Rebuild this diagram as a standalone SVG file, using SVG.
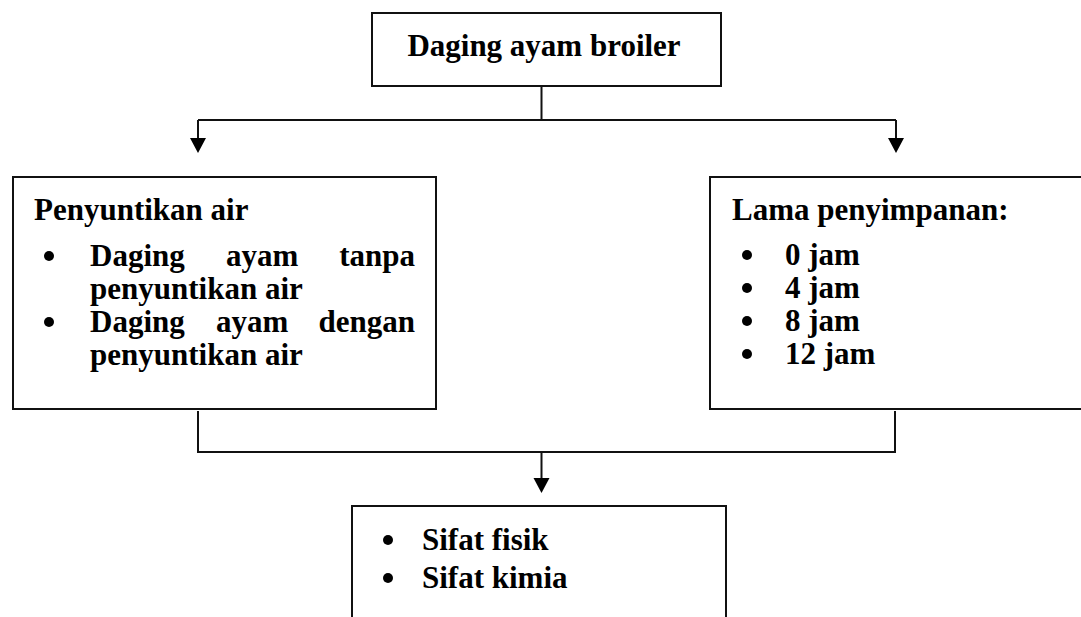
<svg xmlns="http://www.w3.org/2000/svg" width="1081" height="617" viewBox="0 0 1081 617">
<style>
.box{fill:#fff;stroke:#111;stroke-width:2}
.ln{fill:none;stroke:#111;stroke-width:2}
.t{font-family:"Liberation Serif","Times New Roman",serif;font-weight:bold;font-size:31px;fill:#000}
.b{fill:#000}
</style>
<defs>
<marker id="ah" viewBox="0 0 16 15" refX="8" refY="15" markerWidth="16" markerHeight="15" markerUnits="userSpaceOnUse" orient="auto-start-reverse">
<path d="M0,0 L16,0 L8,15 Z" fill="#000"/>
</marker>
</defs>
<g id="connectors">
<path class="ln" d="M541.5,86 V120"/>
<path class="ln" d="M198,120 H896"/>
<path class="ln" d="M198,120 V138"/>
<path d="M190,138 L206,138 L198,153 Z" fill="#000"/>
<path class="ln" d="M896,120 V138"/>
<path d="M888,138 L904,138 L896,153 Z" fill="#000"/>
<path class="ln" d="M198,411 V452 H895 V411"/>
<path class="ln" d="M541.5,452 V478"/>
<path d="M533.5,478 L549.5,478 L541.5,493 Z" fill="#000"/>
</g>
<g id="node-top">
<rect class="box" x="372" y="13" width="349" height="73"/>
<text class="t" x="544" y="56" text-anchor="middle">Daging ayam broiler</text>
</g>
<g id="node-left">
<rect class="box" x="13" y="177" width="423" height="232"/>
<text class="t" x="34" y="220">Penyuntikan air</text>
<circle class="b" cx="49" cy="256" r="5"/>
<text class="t" x="90" y="266">Daging</text>
<text class="t" x="226" y="266">ayam</text>
<text class="t" x="415" y="266" text-anchor="end">tanpa</text>
<text class="t" x="90" y="299">penyuntikan air</text>
<circle class="b" cx="49" cy="322" r="5"/>
<text class="t" x="90" y="332">Daging</text>
<text class="t" x="216" y="332">ayam</text>
<text class="t" x="415" y="332" text-anchor="end">dengan</text>
<text class="t" x="90" y="365">penyuntikan air</text>
</g>
<g id="node-right">
<rect class="box" x="710" y="177" width="374" height="232"/>
<text class="t" x="732" y="220">Lama penyimpanan:</text>
<circle class="b" cx="747" cy="255" r="5"/>
<text class="t" x="785" y="265">0 jam</text>
<circle class="b" cx="747" cy="288" r="5"/>
<text class="t" x="785" y="298">4 jam</text>
<circle class="b" cx="747" cy="321" r="5"/>
<text class="t" x="785" y="331">8 jam</text>
<circle class="b" cx="747" cy="354" r="5"/>
<text class="t" x="785" y="364">12 jam</text>
</g>
<g id="node-bottom">
<rect class="box" x="352" y="506" width="374" height="130"/>
<circle class="b" cx="388" cy="540" r="5"/>
<text class="t" x="422" y="550">Sifat fisik</text>
<circle class="b" cx="388" cy="578" r="5"/>
<text class="t" x="422" y="588">Sifat kimia</text>
</g>
</svg>
